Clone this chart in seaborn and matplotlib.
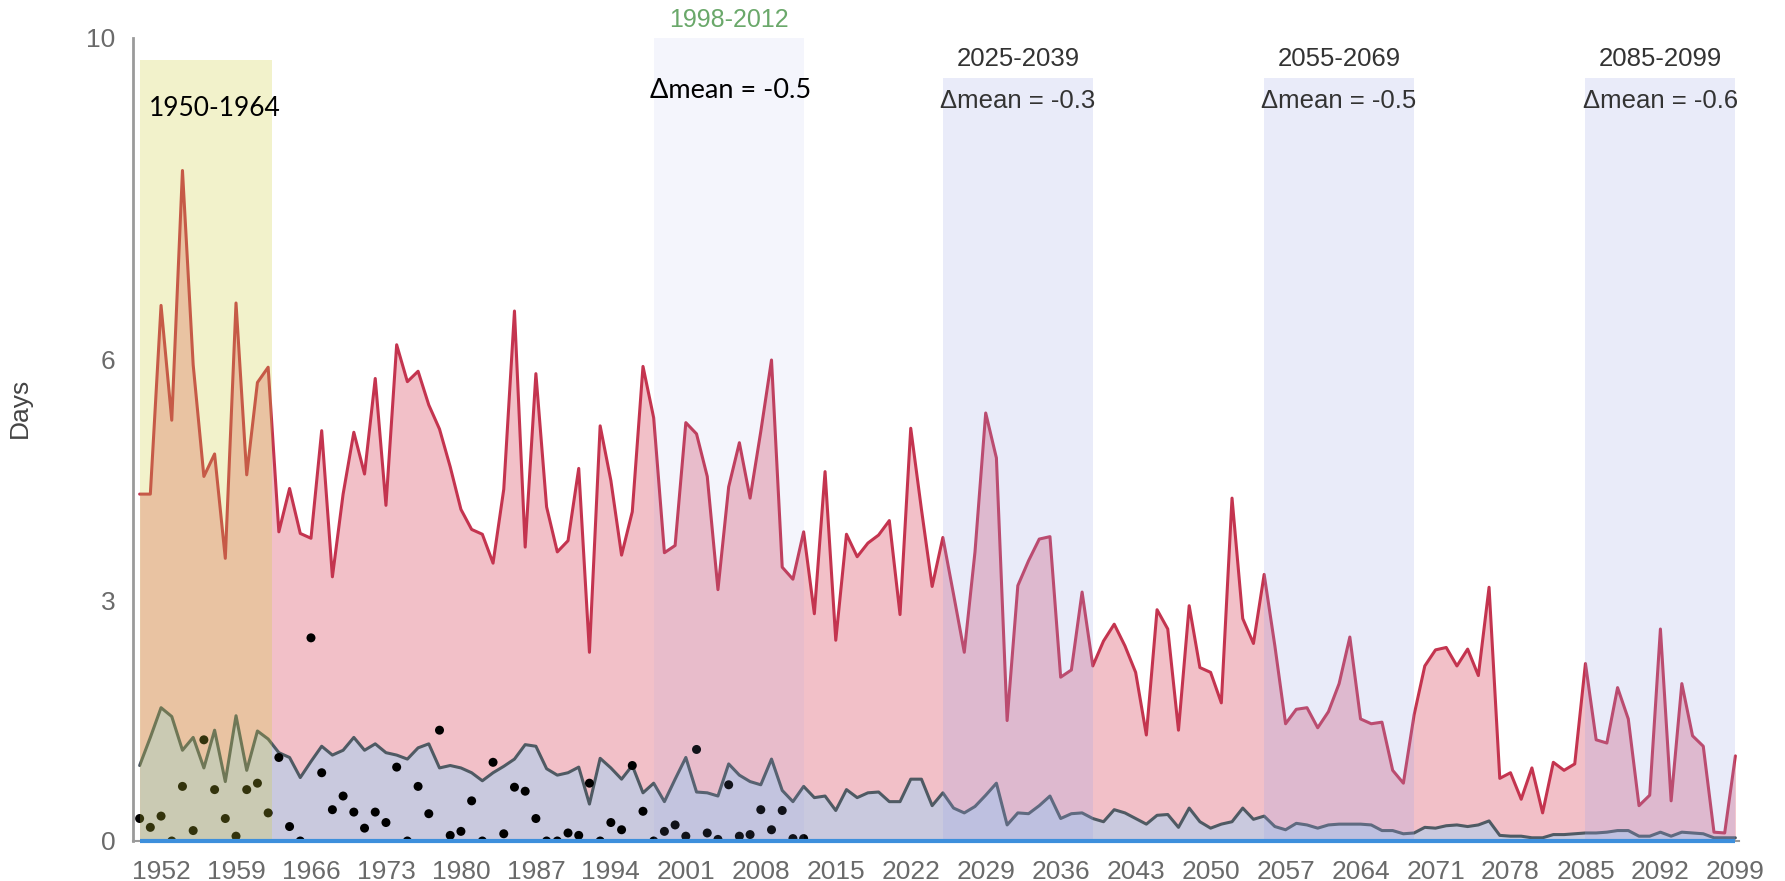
import numpy as np
import pandas as pd
import matplotlib
matplotlib.use("Agg")
import matplotlib.pyplot as plt
import seaborn as sns

# ---------------- data ----------------
years = list(range(1950, 2100))
upper_days = [
    4.32, 4.32, 6.67, 5.24, 8.35, 5.93, 4.54, 4.82, 3.52, 6.70,   # 1950s
    4.56, 5.71, 5.90, 3.85, 4.39, 3.83, 3.77, 5.11, 3.29, 4.32,   # 1960s
    5.09, 4.57, 5.76, 4.18, 6.18, 5.72, 5.85, 5.43, 5.13, 4.66,   # 1970s
    4.13, 3.88, 3.82, 3.46, 4.38, 6.60, 3.66, 5.82, 4.16, 3.60,   # 1980s
    3.74, 4.64, 2.35, 5.17, 4.49, 3.56, 4.10, 5.91, 5.27, 3.59,   # 1990s
    3.68, 5.21, 5.07, 4.54, 3.13, 4.41, 4.96, 4.27, 5.10, 5.99,   # 2000s
    3.41, 3.26, 3.85, 2.83, 4.60, 2.50, 3.82, 3.54, 3.71, 3.81,   # 2010s
    3.99, 2.82, 5.14, 4.13, 3.17, 3.78, 3.07, 2.35, 3.60, 5.33,   # 2020s
    4.77, 1.50, 3.18, 3.49, 3.76, 3.79, 2.04, 2.13, 3.10, 2.18,   # 2030s
    2.49, 2.70, 2.43, 2.10, 1.32, 2.88, 2.64, 1.38, 2.93, 2.16,   # 2040s
    2.10, 1.72, 4.27, 2.77, 2.46, 3.32, 2.43, 1.46, 1.64, 1.66,   # 2050s
    1.41, 1.61, 1.96, 2.54, 1.52, 1.46, 1.48, 0.88, 0.72, 1.57,   # 2060s
    2.18, 2.38, 2.41, 2.18, 2.39, 2.06, 3.16, 0.78, 0.85, 0.52,   # 2070s
    0.91, 0.35, 0.98, 0.88, 0.96, 2.21, 1.26, 1.22, 1.91, 1.52,   # 2080s
    0.44, 0.57, 2.64, 0.50, 1.96, 1.31, 1.18, 0.11, 0.10, 1.06,   # 2090s
]
lower_days = [
    0.94, 1.29, 1.66, 1.55, 1.13, 1.29, 0.91, 1.38, 0.74, 1.56,
    0.88, 1.37, 1.27, 1.10, 1.04, 0.79, 0.99, 1.18, 1.07, 1.13,
    1.29, 1.13, 1.21, 1.10, 1.07, 1.02, 1.16, 1.21, 0.91, 0.94,
    0.91, 0.85, 0.75, 0.85, 0.93, 1.02, 1.20, 1.18, 0.90, 0.82,
    0.85, 0.92, 0.46, 1.03, 0.91, 0.77, 0.94, 0.60, 0.72, 0.49,
    0.77, 1.04, 0.61, 0.60, 0.56, 0.96, 0.82, 0.74, 0.70, 1.02,
    0.63, 0.49, 0.68, 0.54, 0.56, 0.38, 0.64, 0.54, 0.60, 0.61,
    0.49, 0.49, 0.77, 0.77, 0.44, 0.60, 0.41, 0.35, 0.43, 0.57,
    0.72, 0.20, 0.35, 0.34, 0.44, 0.56, 0.28, 0.34, 0.35, 0.28,
    0.24, 0.39, 0.35, 0.28, 0.21, 0.32, 0.33, 0.17, 0.41, 0.24,
    0.16, 0.21, 0.24, 0.41, 0.27, 0.31, 0.18, 0.14, 0.22, 0.20,
    0.16, 0.20, 0.21, 0.21, 0.21, 0.20, 0.13, 0.13, 0.09, 0.10,
    0.17, 0.16, 0.19, 0.20, 0.18, 0.20, 0.25, 0.07, 0.06, 0.06,
    0.04, 0.04, 0.08, 0.08, 0.09, 0.10, 0.10, 0.11, 0.13, 0.13,
    0.06, 0.06, 0.11, 0.06, 0.11, 0.10, 0.09, 0.04, 0.04, 0.04,
]
obs_years = list(range(1950, 2013))
obs_days = [
    0.28, 0.17, 0.31, 0.00, 0.68, 0.13, 1.26, 0.64, 0.28, 0.06,
    0.64, 0.72, 0.35, 1.04, 0.18, 0.00, 2.53, 0.85, 0.39, 0.56,
    0.36, 0.16, 0.36, 0.23, 0.92, 0.00, 0.68, 0.34, 1.38, 0.07,
    0.12, 0.50, 0.00, 0.98, 0.09, 0.67, 0.62, 0.28, 0.00, 0.00,
    0.10, 0.07, 0.72, 0.00, 0.23, 0.14, 0.94, 0.37, 0.00, 0.12,
    0.20, 0.06, 1.14, 0.10, 0.02, 0.70, 0.06, 0.08, 0.39, 0.14,
    0.38, 0.03, 0.03,
]
x_ticks = list(range(1952, 2100, 7))
y_ticks = [0, 3, 6, 10]

base_label = "1950-1964"
period_starts = [1998, 2025, 2055, 2085]
period_ends = [2012, 2039, 2069, 2099]
period_labels = ["1998-2012", "2025-2039", "2055-2069", "2085-2099"]
delta_labels = ["Δmean = -0.5", "Δmean = -0.3", "Δmean = -0.5", "Δmean = -0.6"]

# ---------------- style ----------------
sns.set_style("white")
plt.rcParams["font.family"] = ["Liberation Sans", "DejaVu Sans"]

W, H = 1785, 881
fig = plt.figure(figsize=(W / 100, H / 100), dpi=100)
ax = fig.add_axes([133.2 / W, 40 / H, 1605.4 / W, 803 / H])

df = pd.DataFrame({"year": years, "upper": upper_days, "lower": lower_days})
obs = pd.DataFrame({"year": obs_years, "days": obs_days})

ax.fill_between(df["year"], 0, df["upper"], color="#f2c0c8", lw=0, zorder=1)
ax.fill_between(df["year"], 0, df["lower"], color="#c9c9de", lw=0, zorder=2)
sns.lineplot(data=df, x="year", y="upper", color="#c4344f", lw=2.2, ax=ax, zorder=3)
sns.lineplot(data=df, x="year", y="lower", color="#4f5a63", lw=2.2, ax=ax, zorder=4)
sns.scatterplot(data=obs, x="year", y="days", color="black", s=42,
                edgecolor="none", ax=ax, zorder=5)

# highlight bands (overlays)
ax.axvspan(1950, 1962.4, ymin=0, ymax=0.973, color=(207/255, 207/255, 51/255),
           alpha=0.25, lw=0, zorder=7)
for i, (s, e) in enumerate(zip(period_starts, period_ends)):
    if i == 0:
        ax.axvspan(s, e, ymin=0, ymax=1.0, color=(155/255, 164/255, 232/255),
                   alpha=0.11, lw=0, zorder=7)
    else:
        ax.axvspan(s, e, ymin=0, ymax=0.95, color=(155/255, 164/255, 232/255),
                   alpha=0.22, lw=0, zorder=7)

ax.plot(df["year"], np.zeros(len(years)), color="#3d8fdc", lw=3, zorder=8,
        solid_capstyle="butt", clip_on=False)

# texts
ax.text(1957.0, 9.12, base_label, ha="center", va="center", fontsize=19,
        color="black", family=["Lato", "DejaVu Sans"], zorder=9)
for i, (s, e) in enumerate(zip(period_starts, period_ends)):
    c = (s + e) / 2
    if i == 0:
        ax.text(c, 10.22, period_labels[i], ha="center", va="center", fontsize=18,
                color="#6aa86a", zorder=9, clip_on=False)
        ax.text(c + 0.2, 9.35, delta_labels[i], ha="center", va="center", fontsize=19.5,
                color="black", family=["Lato", "DejaVu Sans"], zorder=9)
    else:
        ax.text(c, 9.74, period_labels[i], ha="center", va="center", fontsize=18.5,
                color="#333333", zorder=9)
        ax.text(c, 9.22, delta_labels[i], ha="center", va="center", fontsize=18.5,
                color="#333333", zorder=9)

ax.set_xlim(1949.4, 2099.3)
ax.set_ylim(0, 10)
ax.set_xticks(x_ticks)
ax.set_yticks(y_ticks)
ax.set_xlabel("")
ax.set_ylabel("Days", fontsize=19, color="#444444")
ax.yaxis.set_label_coords(-0.063, 0.54)

for side in ["top", "right"]:
    ax.spines[side].set_visible(False)
ax.spines["left"].set_color("#9a9a9a")
ax.spines["left"].set_linewidth(2)
ax.spines["bottom"].set_color("#9a9a9a")
ax.spines["bottom"].set_linewidth(1.5)
ax.tick_params(axis="both", direction="out", length=9, width=1.5, color="#9a9a9a",
               labelcolor="#6a6a6a", labelsize=19)
ax.tick_params(axis="y", pad=4)
ax.tick_params(axis="x", pad=5)
ax.grid(False)

fig.savefig("out.png", dpi=100)
